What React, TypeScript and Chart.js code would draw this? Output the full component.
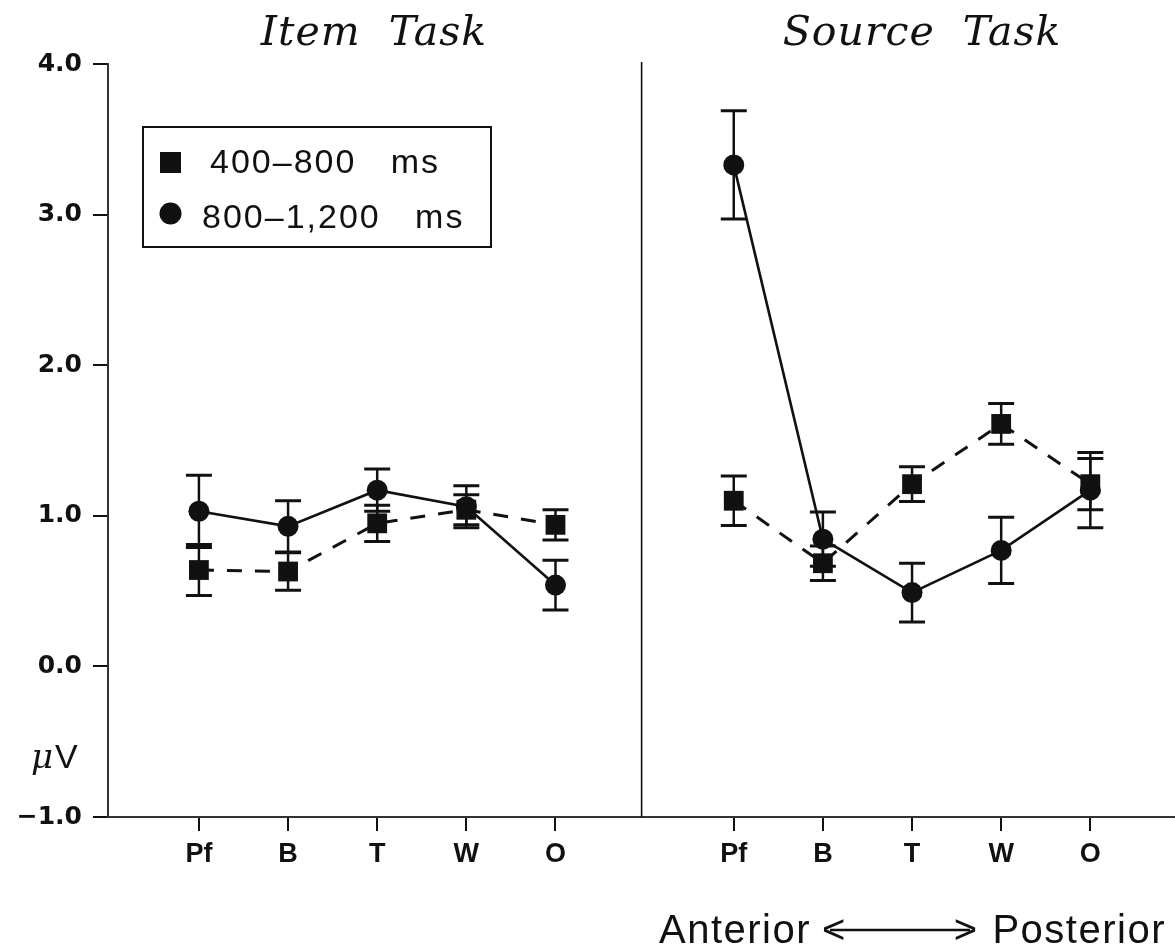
import React, { useEffect, useRef } from 'react';
import { Chart, registerables } from 'chart.js';

Chart.register(...registerables);

// Electrode sites, anterior to posterior
const regions = ['Pf', 'B', 'T', 'W', 'O'];
// x positions of the sites in each task panel
const itemPos = [1, 2, 3, 4, 5];
const sourcePos = [7, 8, 9, 10, 11];
const yTickValues = [-1, 0, 1, 2, 3, 4];

// Mean amplitudes (µV) and standard errors
const item400 = [0.64, 0.63, 0.95, 1.04, 0.94];
const item400Err = [0.17, 0.125, 0.12, 0.1, 0.1];
const item800 = [1.03, 0.93, 1.17, 1.06, 0.54];
const item800Err = [0.24, 0.17, 0.14, 0.14, 0.165];
const source400 = [1.1, 0.685, 1.21, 1.61, 1.21];
const source400Err = [0.165, 0.115, 0.115, 0.135, 0.17];
const source800 = [3.33, 0.845, 0.49, 0.77, 1.17];
const source800Err = [0.36, 0.18, 0.195, 0.22, 0.25];

const panelTitles = ['Item  Task', 'Source  Task'];
const legendLabels = ['400\u2013800   ms', '800\u20131,200   ms'];

const INK = '#111';

export default function App() {
  const ref = useRef<HTMLCanvasElement>(null);

  useEffect(() => {
    const canvas = ref.current;
    if (!canvas) return;

    const series = [
      { pos: itemPos, values: item400, errors: item400Err, shape: 'rect', dash: [15, 13] },
      { pos: itemPos, values: item800, errors: item800Err, shape: 'circle', dash: [] as number[] },
      { pos: sourcePos, values: source400, errors: source400Err, shape: 'rect', dash: [15, 13] },
      { pos: sourcePos, values: source800, errors: source800Err, shape: 'circle', dash: [] as number[] },
    ];

    const errorBars = {
      id: 'errorBars',
      afterDatasetsDraw(chart: any) {
        const { ctx } = chart;
        const yScale = chart.scales.y;
        ctx.save();
        ctx.strokeStyle = INK;
        ctx.setLineDash([]);
        series.forEach((s, i) => {
          const meta = chart.getDatasetMeta(i);
          meta.data.forEach((pt: any, j: number) => {
            const v = s.values[j];
            const e = s.errors[j];
            const x = pt.x;
            const yT = yScale.getPixelForValue(v + e);
            const yB = yScale.getPixelForValue(v - e);
            ctx.lineWidth = 2.5;
            ctx.beginPath();
            ctx.moveTo(x, yT);
            ctx.lineTo(x, yB);
            ctx.stroke();
            ctx.lineWidth = 3;
            ctx.beginPath();
            ctx.moveTo(x - 13, yT);
            ctx.lineTo(x + 13, yT);
            ctx.moveTo(x - 13, yB);
            ctx.lineTo(x + 13, yB);
            ctx.stroke();
          });
        });
        ctx.restore();
      },
    };

    const decorations = {
      id: 'decorations',
      afterDraw(chart: any) {
        const { ctx, chartArea } = chart;
        const xScale = chart.scales.x;
        ctx.save();
        ctx.fillStyle = INK;
        ctx.strokeStyle = INK;

        // panel divider
        const xd = xScale.getPixelForValue(6) - 3;
        ctx.lineWidth = 1.6;
        ctx.beginPath();
        ctx.moveTo(xd, chartArea.top - 2);
        ctx.lineTo(xd, chartArea.bottom);
        ctx.stroke();

        // panel titles
        ctx.font = "italic 41px 'DejaVu Serif'";
        ctx.textAlign = 'center';
        ctx.textBaseline = 'alphabetic';
        (ctx as any).letterSpacing = '1px';
        ctx.fillText(panelTitles[0], 374, 45);
        ctx.fillText(panelTitles[1], 922, 45);
        (ctx as any).letterSpacing = '0px';

        // legend box
        ctx.lineWidth = 2;
        ctx.strokeRect(143, 127, 348, 120);
        ctx.fillRect(160, 152, 21, 21);
        ctx.beginPath();
        ctx.arc(170.5, 213.5, 11, 0, Math.PI * 2);
        ctx.fill();
        ctx.textAlign = 'left';
        ctx.font = "34px 'Liberation Sans'";
        (ctx as any).letterSpacing = '2px';
        ctx.fillText(legendLabels[0], 210, 173);
        ctx.fillText(legendLabels[1], 202, 228);
        (ctx as any).letterSpacing = '0px';

        // unit label
        ctx.font = "italic 34px 'DejaVu Serif'";
        ctx.fillText('\u03bc', 31, 768);
        ctx.font = "34px 'Liberation Sans'";
        ctx.fillText('V', 55, 768);

        // direction label
        ctx.font = "40px 'Liberation Sans'";
        (ctx as any).letterSpacing = '1.5px';
        ctx.fillText('Anterior', 659, 943);
        ctx.textAlign = 'right';
        ctx.fillText('Posterior', 1166, 943);
        (ctx as any).letterSpacing = '0px';
        ctx.textAlign = 'left';
        ctx.fillText('<', 822, 943);
        ctx.textAlign = 'right';
        ctx.fillText('>', 977, 943);
        ctx.lineWidth = 2.5;
        ctx.beginPath();
        ctx.moveTo(830, 930);
        ctx.lineTo(970, 930);
        ctx.stroke();

        ctx.restore();
      },
    };

    const allPos = [...itemPos, ...sourcePos];

    const chart = new Chart(canvas, {
      type: 'line',
      data: {
        datasets: series.map((s) => ({
          data: s.pos.map((x, i) => ({ x, y: s.values[i] })),
          borderColor: INK,
          backgroundColor: INK,
          borderWidth: s.dash.length ? 3 : 2.6,
          borderDash: s.dash,
          pointStyle: s.shape as any,
          pointRadius: s.shape === 'rect' ? 14 : 10.5,
          pointBackgroundColor: INK,
          pointBorderColor: INK,
          pointBorderWidth: 0,
          tension: 0,
          fill: false,
        })),
      },
      options: {
        responsive: false,
        animation: false,
        layout: { autoPadding: false, padding: { top: 64, left: 0, right: 0, bottom: 0 } },
        plugins: {
          legend: { display: false },
          tooltip: { enabled: false },
        },
        scales: {
          x: {
            type: 'linear',
            min: -0.02,
            max: 11.95,
            afterBuildTicks: (scale: any) => {
              scale.ticks = allPos.map((value) => ({ value }));
            },
            afterFit: (scale: any) => {
              scale.height = 132;
              scale.paddingLeft = 0;
              scale.paddingRight = 0;
            },
            ticks: {
              autoSkip: false,
              maxRotation: 0,
              color: INK,
              padding: 7,
              font: { family: "'Liberation Sans'", size: 27, weight: 'bold' },
              callback: (v: any) => {
                const i = allPos.indexOf(Number(v));
                return i < 0 ? '' : regions[i % regions.length];
              },
            },
            grid: {
              drawOnChartArea: false,
              drawTicks: true,
              tickLength: 14,
              color: INK,
              lineWidth: 2,
            },
            border: { display: true, color: '#333', width: 2 },
          },
          y: {
            type: 'linear',
            min: -1,
            max: 4,
            afterBuildTicks: (scale: any) => {
              scale.ticks = yTickValues.map((value) => ({ value }));
            },
            afterFit: (scale: any) => {
              scale.width = 108;
            },
            ticks: {
              color: INK,
              padding: 11,
              font: { family: "'DejaVu Sans'", size: 25, weight: 'bold' },
              callback: (v: any) => {
                const n = Number(v);
                return n < 0 ? '\u2212' + Math.abs(n).toFixed(1) : n.toFixed(1);
              },
            },
            grid: {
              drawOnChartArea: false,
              drawTicks: true,
              tickLength: 15,
              color: INK,
              lineWidth: 2,
            },
            border: { display: true, color: '#333', width: 2 },
          },
        },
      },
      plugins: [errorBars, decorations],
    });

    return () => chart.destroy();
  }, []);

  return (
    <div style={{ position: 'absolute', left: 0, top: 0, width: 1175, height: 949, background: '#fff' }}>
      <canvas ref={ref} width={1175} height={949} style={{ display: 'block' }} />
    </div>
  );
}
